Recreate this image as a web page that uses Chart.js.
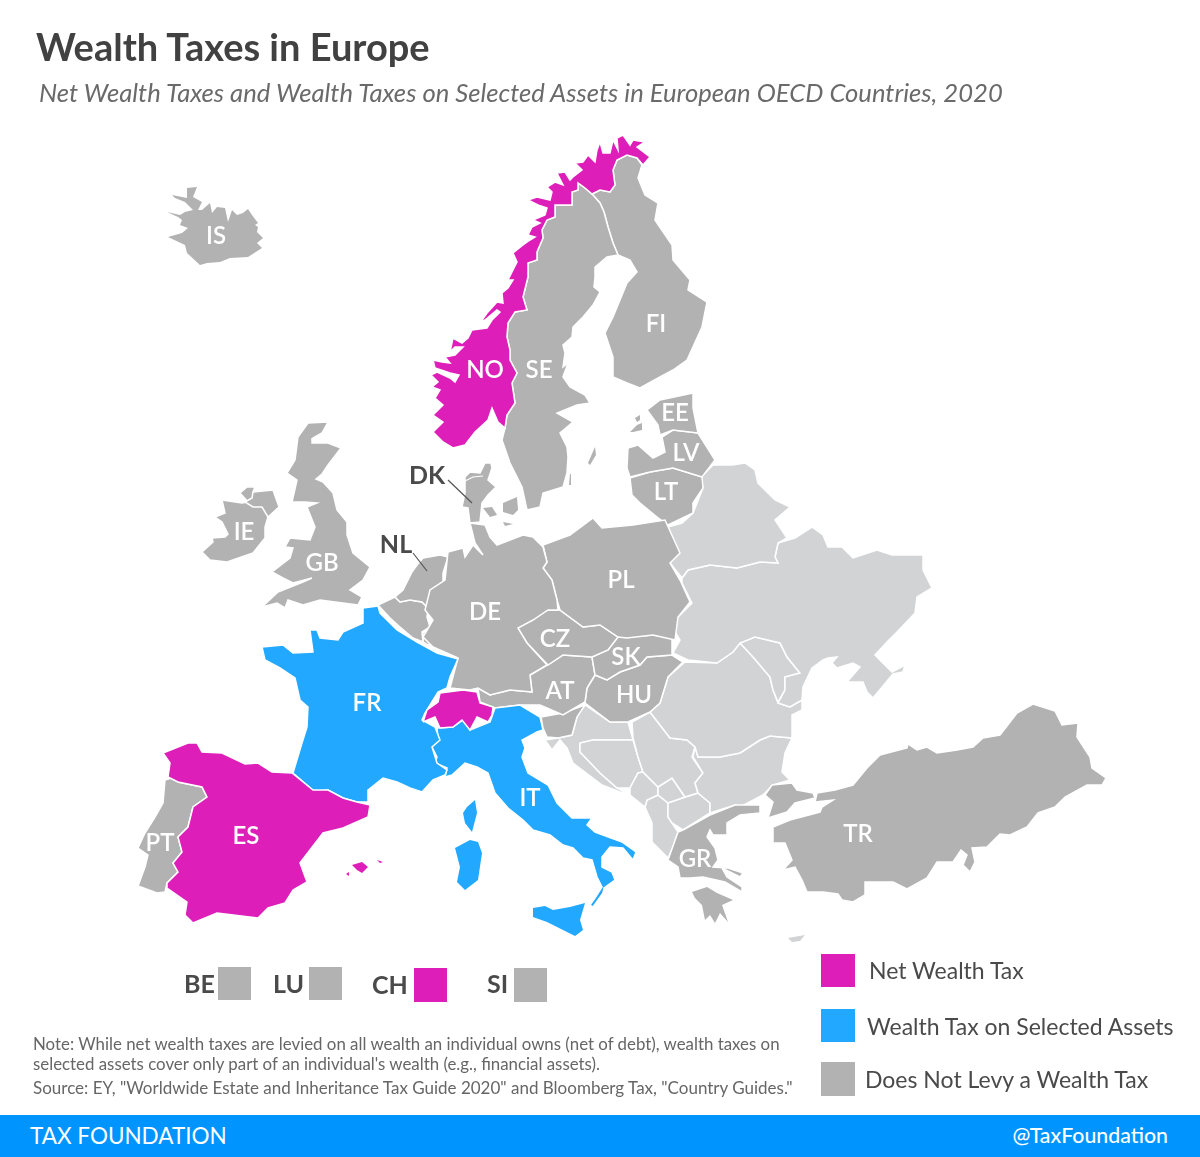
<!DOCTYPE html>
<html><head><meta charset="utf-8">
<script src="https://cdn.jsdelivr.net/npm/chart.js@4"></script>
<style>
html,body{margin:0;padding:0;background:#fff;width:1200px;height:1157px;overflow:hidden;font-family:Lato,sans-serif}
canvas{position:absolute;left:0;top:0}
.t{position:absolute;white-space:nowrap;line-height:1}
.sq{position:absolute}
</style></head><body>
<canvas id="c" width="1200" height="1157"></canvas>
<div class="t" style="left:36px;top:27px;font-size:38px;font-weight:700;color:#414141">Wealth Taxes in Europe</div>
<div class="t" style="left:39px;top:80px;font-size:25.65px;font-style:italic;color:#6a6a6a">Net Wealth Taxes and Wealth Taxes on Selected Assets in European OECD Countries, 2020</div>
<div class="t" style="left:33px;top:1036px;font-size:16.85px;color:#666">Note: While net wealth taxes are levied on all wealth an individual owns (net of debt), wealth taxes on</div>
<div class="t" style="left:33px;top:1056px;font-size:16.85px;color:#666">selected assets cover only part of an individual's wealth (e.g., financial assets).</div>
<div class="t" style="left:33px;top:1079px;font-size:17px;color:#666">Source: EY, "Worldwide Estate and Inheritance Tax Guide 2020" and Bloomberg Tax, "Country Guides."</div>
<div class="sq" style="left:0;top:1115px;width:1200px;height:42px;background:#0094ff"></div>
<div class="t" style="left:30px;top:1125px;font-size:22.5px;color:#fff">TAX FOUNDATION</div>
<div class="t" style="right:32px;top:1125px;font-size:21.3px;font-weight:500;color:#fff">@TaxFoundation</div>

<div class="t" style="left:184px;top:971px;font-size:25px;font-weight:700;color:#4a4a4a">BE</div>
<div class="t" style="left:273px;top:971px;font-size:25px;font-weight:700;color:#4a4a4a">LU</div>
<div class="t" style="left:372px;top:972px;font-size:25px;font-weight:700;color:#4a4a4a">CH</div>
<div class="t" style="left:487px;top:971px;font-size:25px;font-weight:700;color:#4a4a4a">SI</div>
<div class="sq" style="left:218px;top:967px;width:33px;height:33px;background:#b2b2b2"></div>
<div class="sq" style="left:309px;top:967px;width:33px;height:33px;background:#b2b2b2"></div>
<div class="sq" style="left:414px;top:968px;width:33px;height:34px;background:#de1eb8"></div>
<div class="sq" style="left:514px;top:968px;width:33px;height:34px;background:#b2b2b2"></div>
<div class="sq" style="left:821px;top:954px;width:34px;height:33px;background:#de1eb8"></div>
<div class="sq" style="left:821px;top:1009px;width:34px;height:33px;background:#22a9ff"></div>
<div class="sq" style="left:821px;top:1062px;width:34px;height:34px;background:#b2b2b2"></div>
<div class="t" style="left:869px;top:959px;font-size:23px;color:#4a4a4a">Net Wealth Tax</div>
<div class="t" style="left:867px;top:1015px;font-size:23px;color:#4a4a4a">Wealth Tax on Selected Assets</div>
<div class="t" style="left:865px;top:1068px;font-size:23px;color:#4a4a4a">Does Not Levy a Wealth Tax</div>
<script>
const NET='#de1eb8',SEL='#22a9ff',NONE='#b2b2b2',NONOECD='#d1d3d4';
const NO=[[645,142],[637,147],[650,157],[643,165],[637,158],[627,155],[617,160],[613,170],[615,185],[610,192],[600,190],[592,194],[585,188],[578,183],[578,190],[572,192],[572,205],[565,205],[555,205],[555,217],[547,220],[542,230],[543,238],[537,252],[537,260],[528,263],[528,277],[523,297],[527,310],[515,312],[508,323],[507,337],[510,350],[510,360],[517,373],[512,383],[515,403],[507,415],[505,428],[498,422],[492,408],[488,420],[475,432],[465,445],[453,448],[443,442],[433,432],[443,422],[433,415],[443,405],[435,398],[440,390],[432,387],[438,382],[431,375],[437,372],[450,378],[455,382],[459,375],[450,373],[435,368],[433,360],[442,362],[450,363],[445,357],[455,355],[463,347],[455,347],[450,352],[453,338],[462,343],[468,338],[472,330],[487,328],[492,320],[500,312],[497,310],[485,320],[480,323],[487,313],[497,302],[503,303],[502,293],[508,288],[513,280],[508,280],[512,272],[517,262],[513,253],[523,245],[530,240],[535,237],[528,235],[532,227],[540,223],[533,220],[545,215],[547,208],[538,205],[528,200],[537,197],[550,200],[552,192],[547,187],[555,182],[563,185],[557,173],[565,172],[570,180],[573,177],[582,170],[575,163],[583,162],[588,155],[595,162],[597,150],[600,142],[603,153],[610,153],[613,140],[618,150],[617,138],[623,135],[630,145],[633,140]];
const SE=[[578,183],[585,188],[592,194],[600,203],[604,212],[608,227],[613,243],[618,255],[607,257],[601,262],[595,267],[595,277],[594,287],[600,292],[593,305],[583,317],[573,327],[572,337],[563,345],[565,353],[563,367],[568,363],[563,377],[570,387],[585,395],[590,403],[577,405],[557,413],[573,422],[560,433],[567,447],[568,457],[567,473],[563,487],[543,493],[540,507],[527,510],[522,487],[510,463],[502,440],[505,428],[507,415],[515,403],[512,383],[517,373],[510,360],[510,350],[507,337],[508,323],[515,312],[527,310],[523,297],[528,277],[528,263],[537,260],[537,252],[543,238],[542,230],[547,220],[555,217],[555,205],[565,205],[572,205],[572,192],[578,190]];
const GOTLAND=[[588,463],[595,447],[596,455],[590,465]];
const OLAND=[[569,485],[570,474],[571,474],[571,485]];
const FI=[[618,255],[613,243],[608,227],[604,212],[600,203],[592,194],[600,190],[610,192],[615,185],[613,170],[617,160],[627,155],[637,158],[642,165],[638,178],[645,195],[658,203],[655,220],[672,245],[673,260],[690,280],[688,290],[707,302],[702,327],[687,360],[673,370],[660,377],[640,388],[627,383],[613,377],[613,357],[605,333],[613,317],[627,283],[637,272],[630,260]];
const IS=[[167,212],[178,217],[182,220],[180,225],[188,228],[182,233],[168,237],[185,245],[187,253],[200,265],[207,263],[220,262],[230,258],[248,257],[262,248],[257,243],[263,238],[257,232],[258,227],[255,225],[258,223],[252,215],[248,209],[243,213],[237,215],[232,210],[228,222],[225,208],[217,207],[212,213],[210,203],[202,210],[198,210],[202,202],[193,197],[197,187],[187,188],[187,198],[172,195],[175,198],[185,202],[193,210],[185,212],[180,215]];
const GB=[[328,422],[322,433],[313,438],[312,443],[328,443],[341,448],[328,465],[322,474],[316,479],[323,482],[333,493],[337,510],[347,522],[347,535],[353,553],[370,567],[363,580],[350,590],[362,597],[358,605],[320,600],[303,605],[288,600],[285,608],[277,603],[262,607],[278,592],[303,582],[312,578],[293,583],[283,578],[272,572],[290,558],[293,548],[285,547],[290,538],[310,540],[315,527],[307,507],[317,503],[305,502],[292,502],[297,480],[287,473],[295,460],[298,437],[308,423]];
const IE=[[202,552],[213,542],[212,538],[225,537],[228,534],[222,522],[215,517],[225,513],[222,500],[242,503],[248,502],[240,493],[247,487],[255,487],[253,492],[273,490],[279,507],[268,517],[265,527],[265,538],[253,553],[227,562],[210,560]];
const NIR=[[253,492],[273,490],[279,507],[268,517],[262,507],[253,507],[245,502],[252,498]];
const FR=[[363,608],[378,606],[380,613],[397,630],[417,642],[437,653],[458,659],[450,677],[447,688],[438,692],[425,713],[422,720],[435,727],[440,740],[432,747],[437,763],[447,770],[445,775],[433,780],[422,792],[410,788],[397,782],[383,778],[368,790],[368,802],[357,802],[343,798],[328,790],[315,792],[293,773],[302,743],[307,727],[308,707],[300,700],[295,678],[280,668],[265,660],[262,647],[283,645],[293,653],[313,652],[310,630],[317,630],[320,638],[338,640],[343,632],[363,623]];
const ES=[[163,753],[188,743],[197,743],[202,752],[222,753],[245,764],[258,763],[272,772],[292,773],[313,790],[328,790],[343,798],[357,802],[370,805],[368,817],[343,828],[323,833],[300,863],[307,882],[293,890],[285,903],[268,908],[258,918],[217,913],[193,923],[185,915],[187,902],[167,888],[167,883],[178,872],[173,863],[182,852],[178,837],[188,827],[193,807],[207,797],[202,787],[178,782],[168,777],[170,763]];
const PT=[[165,780],[175,777],[178,782],[202,787],[207,797],[193,807],[188,827],[178,837],[182,852],[173,863],[178,872],[167,883],[165,892],[157,893],[138,886],[145,867],[148,855],[138,848],[145,833],[155,817],[163,803]];
const MALLORCA=[[352,865],[362,862],[368,867],[362,873],[357,870]];
const IBIZA=[[346,874],[349,872],[349,876]];
const MENORCA=[[377,860],[383,862],[380,863]];
const IT=[[437,728],[438,738],[432,747],[437,757],[435,763],[447,768],[445,777],[452,775],[465,763],[477,767],[488,773],[495,793],[508,808],[523,820],[533,830],[550,835],[563,845],[573,848],[583,858],[592,860],[597,877],[602,887],[595,898],[590,905],[593,907],[603,893],[604,888],[615,880],[612,872],[602,867],[602,857],[610,847],[623,848],[633,860],[636,852],[622,842],[595,832],[587,825],[592,818],[572,818],[557,803],[548,785],[528,773],[522,757],[525,748],[522,740],[537,732],[543,730],[540,717],[520,705],[495,708],[490,722],[470,730],[463,720],[453,727]];
const SICILY=[[533,908],[545,906],[553,910],[570,907],[585,903],[580,920],[583,930],[575,936],[567,932],[547,922],[533,917]];
const SARDINIA=[[455,848],[470,840],[478,842],[482,853],[478,880],[465,890],[457,882],[460,867]];
const CORSICA=[[467,807],[475,800],[477,813],[472,832],[465,823],[463,813]];
const CH=[[423,722],[427,710],[438,702],[440,693],[463,690],[477,692],[480,703],[493,707],[492,715],[488,722],[477,717],[470,730],[462,720],[453,727],[440,728],[435,717]];
const DE=[[448,552],[463,548],[465,557],[473,545],[483,555],[475,543],[470,523],[485,525],[490,537],[497,545],[510,540],[523,535],[533,537],[543,547],[547,562],[543,568],[552,580],[557,600],[558,610],[548,610],[533,620],[518,628],[527,643],[547,665],[530,675],[532,692],[510,690],[490,695],[478,688],[470,690],[450,688],[458,658],[433,647],[423,637],[433,620],[425,610],[430,590],[445,580]];
const JUTLAND=[[465,477],[470,472],[480,473],[485,463],[491,463],[492,468],[488,480],[496,487],[488,495],[482,503],[480,522],[470,523],[468,508],[462,507],[465,493]];
const LIMFJORD=[[465,481],[473,477],[483,476]];
const FUNEN=[[483,508],[492,507],[497,515],[490,517]];
const ZEALAND=[[503,503],[517,497],[518,510],[513,515],[503,512]];
const LOLLAND=[[503,522],[513,524],[505,526]];
const NL=[[395,597],[403,590],[412,572],[417,565],[423,558],[440,555],[448,557],[443,573],[443,583],[430,592],[428,608],[422,602],[410,600],[400,602]];
const BE=[[378,605],[395,597],[400,602],[410,600],[422,602],[428,608],[427,617],[430,627],[422,632],[423,642],[413,638],[400,627],[390,618]];
const LU=[[423,633],[430,628],[435,643],[428,645],[423,642]];
const PL=[[543,545],[570,535],[593,518],[602,528],[633,525],[665,520],[680,553],[670,563],[680,580],[690,602],[678,617],[675,640],[653,635],[627,638],[618,637],[600,625],[583,627],[560,610],[557,600],[552,580],[543,568],[547,562]];
const CZ=[[517,628],[533,617],[548,610],[560,610],[583,627],[600,625],[618,637],[608,650],[592,657],[563,655],[548,665],[527,643]];
const SK=[[618,637],[627,637],[653,635],[672,638],[672,655],[647,657],[640,665],[620,672],[607,680],[595,675],[592,657],[608,650]];
const AT=[[530,675],[547,665],[563,655],[592,657],[595,675],[587,688],[585,702],[563,715],[540,705],[520,705],[495,708],[480,702],[478,688],[490,695],[510,690],[532,692]];
const HU=[[595,675],[607,680],[620,672],[640,665],[647,657],[672,655],[683,662],[668,677],[660,703],[650,712],[628,722],[610,722],[585,703],[587,688]];
const SI=[[541,717],[563,713],[585,705],[577,717],[572,735],[558,738],[547,737],[543,728]];
const EE=[[647,410],[660,400],[693,393],[693,408],[698,433],[673,430],[660,435],[658,425]];
const SAAREMAA=[[630,432],[637,425],[642,423],[642,430],[633,432]];
const HIIUMAA=[[635,418],[640,415],[640,420],[637,422]];
const LV=[[627,468],[628,448],[638,445],[653,458],[665,452],[662,437],[673,430],[698,433],[715,460],[702,477],[673,468],[650,472],[630,477]];
const LT=[[630,478],[650,472],[673,468],[702,477],[703,488],[693,503],[693,513],[668,525],[657,517],[640,503],[632,495]];
const GR=[[683,830],[710,815],[735,805],[760,805],[760,813],[740,815],[727,823],[727,835],[713,835],[710,830],[707,837],[715,848],[718,860],[713,867],[728,868],[743,873],[740,877],[722,868],[727,877],[742,887],[742,892],[725,882],[703,877],[690,878],[680,878],[678,867],[668,860],[678,832]];
const PELOPONNESE=[[692,892],[707,887],[717,893],[733,900],[722,905],[728,922],[720,913],[715,923],[710,915],[705,920],[702,905],[695,898]];
const TR_THRACE=[[792,783],[797,790],[813,793],[815,798],[795,803],[787,812],[768,818],[773,802],[765,795],[772,785]];
const TR=[[817,793],[835,790],[853,785],[867,768],[880,755],[907,748],[908,744],[917,750],[927,747],[937,753],[957,750],[973,747],[983,738],[1000,735],[1017,713],[1033,704],[1055,711],[1062,725],[1078,723],[1077,737],[1090,757],[1092,768],[1106,778],[1102,785],[1087,785],[1065,797],[1055,807],[1038,813],[1027,827],[1010,835],[1000,834],[987,847],[972,848],[975,862],[970,872],[963,865],[967,855],[961,850],[953,862],[937,862],[927,878],[907,889],[893,882],[865,882],[865,895],[853,902],[842,900],[838,894],[823,892],[807,892],[802,880],[795,867],[783,870],[792,860],[785,843],[773,843],[773,827],[790,820],[820,812],[822,807],[833,800],[815,802]];
const BY=[[713,465],[732,465],[745,463],[755,470],[758,483],[775,500],[790,507],[775,520],[787,538],[778,543],[775,557],[778,563],[760,562],[737,568],[710,565],[688,570],[682,578],[670,563],[678,553],[668,527],[682,523],[693,513],[703,488],[700,478]];
const UA=[[682,578],[688,570],[710,565],[737,568],[760,562],[778,563],[775,557],[778,543],[795,538],[812,527],[823,535],[828,547],[842,547],[853,558],[877,550],[892,555],[923,555],[923,570],[932,588],[917,597],[915,613],[897,632],[887,642],[875,655],[892,672],[905,665],[903,672],[893,674],[873,698],[867,692],[863,682],[847,682],[860,667],[853,663],[837,668],[832,663],[837,657],[828,658],[823,660],[812,668],[803,687],[802,700],[790,707],[778,703],[785,690],[785,677],[800,673],[787,657],[780,643],[755,637],[740,643],[733,652],[717,663],[688,660],[673,653],[680,640],[675,632],[675,620],[692,603],[682,583]];
const MD=[[740,643],[755,637],[780,643],[787,657],[800,673],[785,677],[785,690],[778,702],[773,690],[770,677],[753,657]];
const RO=[[685,662],[717,663],[733,652],[740,643],[753,657],[770,677],[773,690],[778,703],[790,707],[802,700],[802,710],[792,715],[792,738],[770,736],[760,740],[740,753],[720,757],[698,757],[695,747],[687,740],[670,738],[650,712],[660,703],[668,677]];
const BG=[[695,747],[698,757],[720,757],[740,753],[760,740],[770,736],[792,738],[785,753],[782,772],[790,780],[773,785],[763,795],[740,807],[735,805],[710,813],[710,803],[698,793],[695,783],[703,773],[693,757]];
const RS=[[632,722],[650,712],[670,738],[687,740],[695,747],[692,757],[703,773],[695,783],[698,793],[685,797],[672,778],[658,787],[643,772],[638,757],[633,738]];
const XK=[[658,787],[672,778],[685,797],[668,803],[658,795]];
const MK=[[668,803],[685,797],[698,793],[710,803],[710,813],[683,830],[672,823],[668,817]];
const ME=[[630,788],[638,773],[643,772],[658,787],[658,795],[647,800],[645,807],[630,795]];
const AL=[[647,800],[658,795],[668,803],[668,817],[678,832],[673,847],[668,858],[652,842],[652,823],[645,807]];
const BA=[[580,743],[593,740],[633,740],[638,757],[643,772],[638,773],[630,788],[617,788],[600,773],[580,752]];
const HR=[[578,713],[585,705],[610,722],[628,722],[633,740],[593,740],[580,743],[580,752],[600,773],[617,788],[630,795],[620,792],[602,785],[573,763],[567,748],[560,740],[552,750],[545,740],[558,738],[572,735],[577,717]];
const CY=[[788,938],[805,935],[800,941],[792,942]];
const DK_LEADER=[[448,480],[472,503]];
const NL_LEADER=[[413,553],[427,571]];
const labelNames=['IS','NO','SE','FI','EE','LV','LT','DK','NL','IE','GB','DE','PL','CZ','SK','AT','HU','FR','IT','ES','PT','GR','TR'];
const labelX=[216,485,539,656,675,686,666,427,396,244,322,485,621,555,626,560,634,367,530,246,160,695,858];
const labelY=[236,370,370,324,413,453,492,476,545,532,563,612,580,639,657,691,695,703,798,836,843,859,834];
const darkLabels=['DK','NL'];
const shapes=[
 [NET,NO],[NET,ES],[NET,CH],[NET,MALLORCA],[NET,IBIZA],[NET,MENORCA],
 [SEL,FR],[SEL,IT],[SEL,SICILY],[SEL,SARDINIA],[SEL,CORSICA],
 [NONE,NIR],[NONE,IE],[NONE,IS],[NONE,SE],[NONE,GOTLAND],[NONE,OLAND],[NONE,FI],[NONE,GB],[NONE,PT],[NONE,DE],[NONE,JUTLAND],[NONE,FUNEN],[NONE,ZEALAND],[NONE,LOLLAND],[NONE,NL],[NONE,BE],[NONE,LU],[NONE,PL],[NONE,CZ],[NONE,SK],[NONE,AT],[NONE,HU],[NONE,SI],[NONE,EE],[NONE,SAAREMAA],[NONE,HIIUMAA],[NONE,LV],[NONE,LT],[NONE,GR],[NONE,PELOPONNESE],[NONE,TR_THRACE],[NONE,TR],
 [NONOECD,BY],[NONOECD,UA],[NONOECD,MD],[NONOECD,RO],[NONOECD,BG],[NONOECD,RS],[NONOECD,XK],[NONOECD,MK],[NONOECD,ME],[NONOECD,AL],[NONOECD,BA],[NONOECD,HR],[NONOECD,CY]
];
const islands=[IS,GOTLAND,OLAND,MALLORCA,IBIZA,MENORCA,SICILY,SARDINIA,CORSICA,FUNEN,ZEALAND,LOLLAND,SAAREMAA,HIIUMAA,PELOPONNESE,CY];
const toPts=a=>a.map(p=>({x:p[0],y:p[1]}));
const datasets=shapes.map(([col,poly])=>({
  data:toPts(poly.concat([poly[0]])),showLine:true,fill:'shape',backgroundColor:col,borderColor:islands.includes(poly)?col:'#fff',borderWidth:islands.includes(poly)?0:1.5,pointRadius:0,tension:0
}));
datasets.unshift({data:toPts(LIMFJORD),showLine:true,fill:false,borderColor:'#fff',borderWidth:1.2,pointRadius:0});
[DK_LEADER,NL_LEADER].forEach(l=>datasets.unshift({data:toPts(l),showLine:true,fill:false,borderColor:'#555',borderWidth:1.2,pointRadius:0}));
const labelPlugin={id:'mapLabels',afterDatasetsDraw(ch){
  const {ctx,scales:{x,y}}=ch;ctx.save();ctx.textAlign='center';ctx.textBaseline='middle';
  labelNames.forEach((n,i)=>{
    const dark=darkLabels.includes(n);
    ctx.font=(dark?'700 25px':'600 24px')+' Lato';
    ctx.fillStyle=dark?'#4a4a4a':'#fff';
    ctx.fillText(n,x.getPixelForValue(labelX[i]),y.getPixelForValue(labelY[i]));
  });ctx.restore();
}};
new Chart(document.getElementById('c'),{type:'scatter',data:{datasets},plugins:[labelPlugin],options:{
  responsive:false,animation:false,layout:{padding:0},
  plugins:{legend:{display:false},tooltip:{enabled:false},title:{display:false}},
  scales:{x:{type:'linear',min:0,max:1200,display:false},y:{type:'linear',min:0,max:1157,reverse:true,display:false}}
}});
</script>
</body></html>
